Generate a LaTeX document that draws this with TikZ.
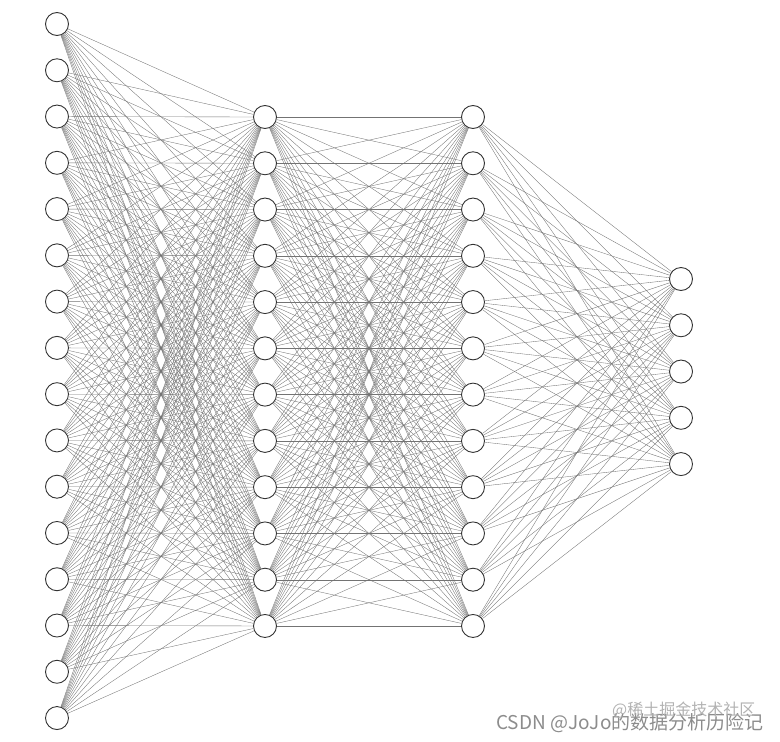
\documentclass[tikz,border=0pt]{standalone}
\usepackage{fontspec}
\newfontfamily\cjk{Noto Sans CJK SC}
\tikzset{
  neuron/.style={circle,draw=black!80,line width=0.9pt,fill=white,minimum size=23pt,inner sep=0pt},
  synapse/.style={draw=black!55,line width=0.35pt},
  mark text/.style={text=black!45,inner sep=0pt,font=\cjk}
}

\begin{document}
\begin{tikzpicture}[x=1pt,y=-1pt]
\useasboundingbox (0,0) rectangle (780,742);
% layers
\foreach \i in {1,...,16}
  \node[neuron] (in-\i) at (57,{24+(\i-1)*46.27}) {};
\foreach \i in {1,...,12} {
  \node[neuron] (ha-\i) at (265,{117+(\i-1)*46.27}) {};
  \node[neuron] (hb-\i) at (473,{117+(\i-1)*46.27}) {};
}
\foreach \i in {1,...,5}
  \node[neuron] (out-\i) at (681,{279+(\i-1)*46.27}) {};
% connections
\foreach \i in {1,...,16}
  \foreach \j in {1,...,12}
    \draw[synapse] (in-\i) -- (ha-\j);
\foreach \i in {1,...,12}
  \foreach \j in {1,...,12}
    \draw[synapse] (ha-\i) -- (hb-\j);
\foreach \i in {1,...,12}
  \foreach \j in {1,...,5}
    \draw[synapse] (hb-\i) -- (out-\j);
% watermark
\node[mark text,font=\cjk\fontsize{19}{19}\selectfont,anchor=base west] (mark-csdn) at (496,729) {CSDN @JoJo的数据分析历险记};
\node[mark text,text=black!30,font=\cjk\fontsize{16}{16}\selectfont,anchor=west] (mark-juejin) at (612,710) {@稀土掘金技术社区};
\end{tikzpicture}
\end{document}
